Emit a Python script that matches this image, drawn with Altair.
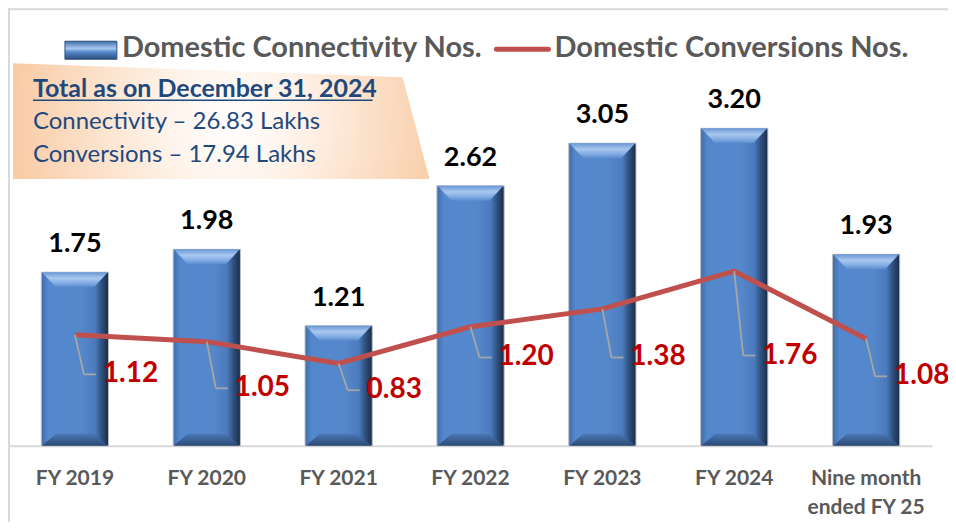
import altair as alt
import pandas as pd

categories = ["FY 2019", "FY 2020", "FY 2021", "FY 2022", "FY 2023", "FY 2024", "Nine month ended FY 25"]
connectivity = [1.75, 1.98, 1.21, 2.62, 3.05, 3.20, 1.93]
conversions = [1.12, 1.05, 0.83, 1.20, 1.38, 1.76, 1.08]
conv_label_pos = [0.72, 0.58, 0.56, 0.89, 0.89, 0.91, 0.70]

legend_names = ["Domestic Connectivity Nos.", "Domestic Conversions Nos."]
box_lines = ["Total as on December 31, 2024", "Connectivity \u2013 26.83 Lakhs", "Conversions \u2013 17.94 Lakhs"]

df = pd.DataFrame({
    "cat": categories,
    "conn": connectivity,
    "conv": conversions,
    "lab": conv_label_pos,
})
df["conn_lbl"] = [f"{v:.2f}" for v in connectivity]
df["conv_lbl"] = [f"{v:.2f}" for v in conversions]

FONT = "Lato"
YMAX = 4.41

xscale = alt.Scale(paddingInner=0.49, paddingOuter=0.245)
xaxis = alt.Axis(title=None, labelAngle=0, ticks=False, domainColor="#D9D9D9",
                 domainWidth=2, labelFont=FONT, labelFontSize=21, labelFontWeight="bold",
                 labelColor="#595959", labelPadding=22, labelLineHeight=29,
                 labelExpr="datum.value == 'Nine month ended FY 25' ? ['Nine month', 'ended FY 25'] : datum.value")
xenc = alt.X("cat:N", sort=categories, bandPosition=0.5, scale=xscale, axis=xaxis)
xbar = alt.X("cat:N", sort=categories, scale=xscale, axis=xaxis)
yscale = alt.Scale(domain=[0, YMAX], nice=False, zero=True)

one = pd.DataFrame({"k": [0]})
base = alt.Chart(df)

# chart frame (decoration)
frame_top = alt.Chart(one).mark_rule(color="#D9D9D9", strokeWidth=2).encode(
    x=alt.value(-1), x2=alt.value(940), y=alt.value(1))
frame_left = alt.Chart(one).mark_rule(color="#D9D9D9", strokeWidth=2).encode(
    x=alt.value(0), y=alt.value(0), y2=alt.value(520))

# text box (decoration)
box = alt.Chart(one).mark_point(
    shape="M0,0 L390,14 L417,116 L0,116 Z", size=4, filled=True, opacity=1, strokeWidth=0,
    fill=alt.Gradient(gradient="radial", x1=0.52, y1=0.5, x2=0.52, y2=0.5, r1=0, r2=0.62,
                      stops=[alt.GradientStop(offset=0, color="#FFFFFF"),
                             alt.GradientStop(offset=0.3, color="#FEF1E6"),
                             alt.GradientStop(offset=1, color="#F7C193")])
).encode(x=alt.value(4), y=alt.value(55))

box_title = alt.Chart(one).mark_text(
    align="left", baseline="middle", font=FONT, fontSize=25, fontWeight="bold", color="#1F497D",
    text=box_lines[0]
).encode(x=alt.value(24), y=alt.value(81))
box_l2 = alt.Chart(one).mark_text(
    align="left", baseline="middle", font=FONT, fontSize=24, color="#1F497D", text=box_lines[1]
).encode(x=alt.value(24), y=alt.value(114))
box_l3 = alt.Chart(one).mark_text(
    align="left", baseline="middle", font=FONT, fontSize=24, color="#1F497D", text=box_lines[2]
).encode(x=alt.value(24), y=alt.value(147))
underline = alt.Chart(one).mark_rule(color="#1F497D", strokeWidth=1.5).encode(
    x=alt.value(24), x2=alt.value(364), y=alt.value(92))

bars = base.mark_bar(
    stroke="#BFBFBF", strokeWidth=1, width={"band": 1},
    fill=alt.Gradient(gradient="linear", x1=0, y1=0, x2=1, y2=0,
                      stops=[alt.GradientStop(offset=0, color="#3E6CA9"),
                             alt.GradientStop(offset=0.1, color="#5488CD"),
                             alt.GradientStop(offset=0.6, color="#5587CB"),
                             alt.GradientStop(offset=0.8, color="#4B7BBD"),
                             alt.GradientStop(offset=0.9, color="#2E4F7C"),
                             alt.GradientStop(offset=1, color="#1A2C46")])
).encode(x=xbar, y=alt.Y("conn:Q", scale=yscale, axis=None))

topcap = base.mark_point(
    shape="M-33,0 L33,0 L19,15 L-19,15 Z", size=4, filled=True, opacity=1, strokeWidth=0,
    fill=alt.Gradient(gradient="linear", x1=0, y1=0, x2=0, y2=1,
                      stops=[alt.GradientStop(offset=0, color="#6A97D6"),
                             alt.GradientStop(offset=0.4, color="#A8C7EF"),
                             alt.GradientStop(offset=0.7, color="#86AEE4"),
                             alt.GradientStop(offset=1, color="#5A8BCF")])
).encode(x=xenc, y=alt.Y("conn:Q", scale=yscale, axis=None))

botcap = base.mark_point(
    shape="M-19,-12 L19,-12 L33,0 L-33,0 Z", size=4, filled=True, opacity=1, strokeWidth=0,
    fill=alt.Gradient(gradient="linear", x1=0, y1=0, x2=0, y2=1,
                      stops=[alt.GradientStop(offset=0, color="#4A78B6"),
                             alt.GradientStop(offset=1, color="#2C4A74")])
).encode(x=xenc, y=alt.YDatum(0, type="quantitative", scale=yscale, axis=None))

bar_labels = base.mark_text(
    baseline="alphabetic", dy=-20, font=FONT, fontSize=27, fontWeight="bold", color="#000000"
).encode(x=xenc, y=alt.Y("conn:Q", scale=yscale, axis=None), text="conn_lbl:N")

line = base.mark_line(color="#C0504D", strokeWidth=5, strokeJoin="round").encode(
    x=xenc, y=alt.Y("conv:Q", scale=yscale, axis=None))

leader1 = base.mark_rule(color="#A6A6A6", strokeWidth=1.8, x2Offset=9).encode(
    x=xenc, x2="cat:N", y=alt.Y("conv:Q", scale=yscale, axis=None), y2="lab:Q")
leader2 = base.mark_rule(color="#A6A6A6", strokeWidth=1.8, xOffset=9, x2Offset=21).encode(
    x=xenc, x2="cat:N", y=alt.Y("lab:Q", scale=yscale, axis=None))

conv_labels = base.mark_text(
    align="left", baseline="middle", dx=28, font=FONT, fontSize=28, fontWeight="bold", color="#C00000"
).encode(x=xenc, y=alt.Y("lab:Q", scale=yscale, axis=None), text="conv_lbl:N")

# legend (decoration)
leg_rect = alt.Chart(one).mark_rect(
    stroke="#2E4F7C", strokeWidth=1,
    fill=alt.Gradient(gradient="linear", x1=0, y1=0, x2=0, y2=1,
                      stops=[alt.GradientStop(offset=0, color="#3E6CA9"),
                             alt.GradientStop(offset=0.4, color="#A8C7EF"),
                             alt.GradientStop(offset=0.6, color="#5587CB"),
                             alt.GradientStop(offset=1, color="#2E4F7C")])
).encode(x=alt.value(56), x2=alt.value(108), y=alt.value(33), y2=alt.value(51))
leg_line = alt.Chart(one).mark_rule(
    color="#C0504D", strokeWidth=5, strokeCap="round").encode(
    x=alt.value(488), x2=alt.value(540), y=alt.value(41))
leg_t1 = alt.Chart(one).mark_text(
    align="left", baseline="middle", font=FONT, fontSize=29, fontWeight="bold", color="#595959",
    text=legend_names[0]).encode(x=alt.value(113), y=alt.value(40))
leg_t2 = alt.Chart(one).mark_text(
    align="left", baseline="middle", font=FONT, fontSize=29, fontWeight="bold", color="#595959",
    text=legend_names[1]).encode(x=alt.value(546), y=alt.value(40))

chart = alt.layer(
    frame_top, frame_left,
    box, box_title, box_l2, box_l3, underline,
    bars, topcap, botcap, bar_labels, line, leader1, leader2, conv_labels,
    leg_rect, leg_line, leg_t1, leg_t2
).properties(
    width=924, height=438,
    background="#FFFFFF",
    autosize=alt.AutoSizeParams(type="none"),
    padding={"left": 1, "top": 0, "right": 16, "bottom": 76},
).configure_view(strokeWidth=0, stroke="transparent")

chart.save("out.html", embed_options={"renderer": "svg", "actions": False})
